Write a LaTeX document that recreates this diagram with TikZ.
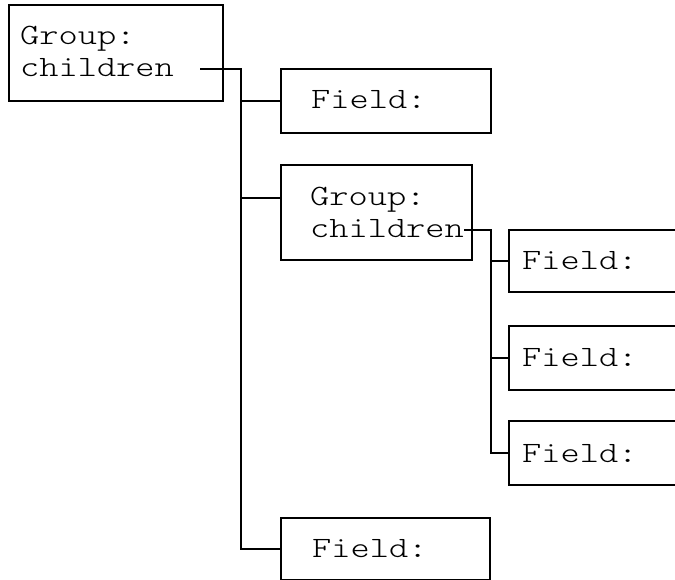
\documentclass[tikz,border=0pt]{standalone}
\usepackage{fontspec}
\newfontfamily\cour[FakeStretch=1.24]{lmmonolt10-regular.otf}
\begin{document}
\begin{tikzpicture}[x=1pt,y=-1pt,
  box/.style={draw,line width=1.7pt,inner sep=0pt,outer sep=0pt,anchor=north west},
  lbl/.style={anchor=base west,inner sep=0pt,font=\cour\fontsize{29.5}{31}\selectfont},
  conn/.style={line width=1.7pt}]
\useasboundingbox (0,0) rectangle (675,580);
\clip (0,0) rectangle (675,580);
% boxes
\node[box,minimum width=214pt,minimum height=96pt] (g1) at (9,5) {};
\node[box,minimum width=210pt,minimum height=64pt] (f1) at (281,69) {};
\node[box,minimum width=191pt,minimum height=95pt] (g2) at (281,165) {};
\node[box,minimum width=200pt,minimum height=62pt] (f5) at (509,230) {};
\node[box,minimum width=200pt,minimum height=64pt] (f6) at (509,326) {};
\node[box,minimum width=200pt,minimum height=64pt] (f7) at (509,421) {};
\node[box,minimum width=209pt,minimum height=62pt] (f4) at (281,518) {};
% texts
\node[lbl] (t1a) at (20,45) {Group:};
\node[lbl] (t1b) at (20,77) {children};
\node[lbl] (tf1) at (311,109) {Field:};
\node[lbl] (t2a) at (310,206) {Group:};
\node[lbl] (t2b) at (310,238) {children};
\node[lbl] (tf5) at (522,270) {Field:};
\node[lbl] (tf6) at (522,366) {Field:};
\node[lbl] (tf7) at (522,462) {Field:};
\node[lbl] (tf4) at (312,557) {Field:};
% connectors
\coordinate (s1) at (200,69);
\coordinate (j1) at (241,69);
\coordinate (g2in) at (281,198);
\draw[conn] (s1) -- (j1) |- (f4.west);
\draw[conn] (j1 |- f1.west) -- (f1.west);
\draw[conn] (j1 |- g2in) -- (g2in);
\coordinate (s2) at (464,230);
\coordinate (j2) at (491,230);
\draw[conn] (s2) -- (j2) |- (f7.west);
\draw[conn] (j2 |- f5.west) -- (f5.west);
\draw[conn] (j2 |- f6.west) -- (f6.west);
\end{tikzpicture}
\end{document}
